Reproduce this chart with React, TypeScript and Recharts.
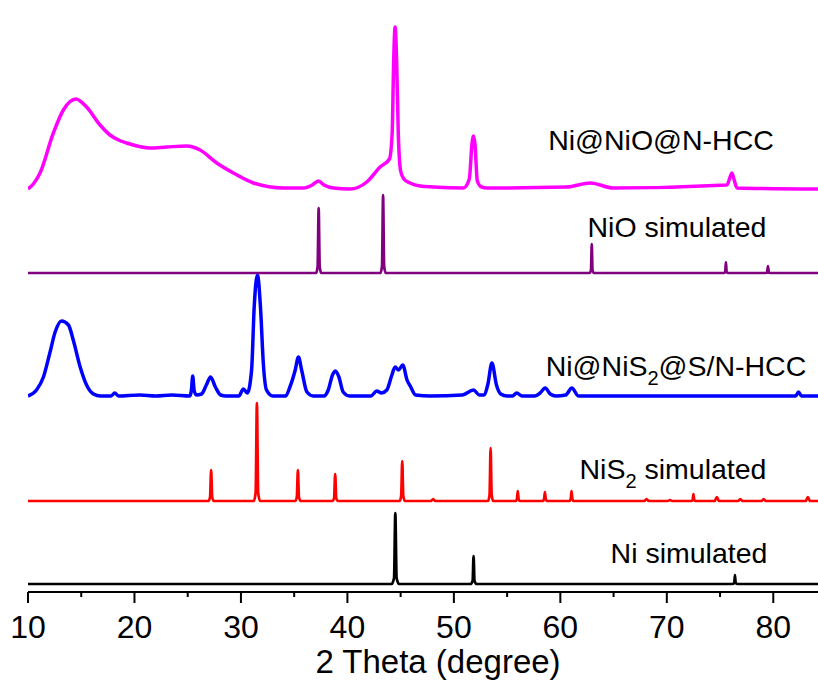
import { LineChart, Line, XAxis, YAxis } from "recharts";

// 2θ (degree) vs intensity (a.u.), each pattern
// intensities are relative to each pattern's own baseline
const niSim: [number, number][] = [
  [10, 0], [44.15, 0], [44.38, 6], [44.5, 71], [44.62, 6], [44.85, 0],
  [51.55, 0], [51.76, 3], [51.85, 28], [51.94, 3], [52.15, 0],
  [76.15, 0], [76.33, 1], [76.4, 9], [76.47, 1], [76.65, 0], [84.2, 0],
];

const nis2Sim: [number, number][] = [
  [10, 0],
  [26.95, 0], [27.1, 4], [27.2, 31], [27.3, 4], [27.45, 0],
  [31.2, 0], [31.38, 8], [31.5, 98], [31.62, 8], [31.8, 0],
  [35.1, 0], [35.25, 4], [35.35, 31], [35.45, 4], [35.6, 0],
  [38.6, 0], [38.75, 3], [38.85, 27], [38.95, 3], [39.1, 0],
  [44.9, 0], [45.05, 5], [45.15, 40], [45.25, 5], [45.4, 0],
  [47.85, 0], [48.05, 2], [48.25, 0],
  [53.2, 0], [53.35, 6], [53.45, 53], [53.55, 6], [53.7, 0],
  [55.8, 0], [55.92, 2], [56.0, 10], [56.08, 2], [56.2, 0],
  [58.35, 0], [58.47, 2], [58.55, 9], [58.63, 2], [58.75, 0],
  [60.85, 0], [60.97, 2], [61.05, 10], [61.13, 2], [61.25, 0],
  [67.9, 0], [68.1, 2], [68.3, 0],
  [70.1, 0], [70.3, 1], [70.5, 0],
  [72.3, 0], [72.42, 1], [72.5, 7], [72.58, 1], [72.7, 0],
  [74.5, 0], [74.7, 4], [74.9, 0],
  [76.7, 0], [76.9, 2], [77.1, 0],
  [78.9, 0], [79.1, 2], [79.3, 0],
  [83.05, 0], [83.25, 4], [83.45, 0],
  [84.2, 0],
];

const niNis2Hcc: [number, number][] = [
  [10, 0], [10.8, 6], [11.45, 19], [12.05, 43], [12.55, 64], [13.15, 75], [13.8, 71],
  [14.25, 56], [14.9, 29], [15.5, 11], [16.15, 2], [16.8, 0], [17.8, 0], [18.15, 3],
  [18.5, 0], [20.5, 1], [22, 0], [23.5, 1], [25.2, 0], [25.35, 6], [25.47, 20],
  [25.6, 6], [25.8, 1], [26.3, 2], [26.75, 11], [27.15, 19], [27.6, 9], [28.1, 1],
  [28.6, 0], [29.8, 0], [30.23, 7], [30.6, 3], [31.0, 26], [31.25, 90], [31.55, 121],
  [31.85, 86], [32.1, 33], [32.4, 6], [33.0, 0], [34.2, 0], [34.6, 9], [35.1, 26],
  [35.4, 39], [35.7, 26], [36.2, 4], [36.8, 0], [37.8, 0], [38.2, 6], [38.6, 21],
  [38.88, 25], [39.2, 19], [39.6, 4], [40.2, 0], [42.2, 0], [42.76, 5], [43.2, 3],
  [43.7, 6], [44.15, 20], [44.48, 29], [44.8, 26], [45.2, 31], [45.6, 16], [45.95, 9],
  [46.4, 1], [47.8, 0], [50.8, 1], [51.84, 6], [52.4, 1], [52.8, 1], [53.2, 12],
  [53.57, 33], [54.0, 11], [54.4, 2], [55.0, 0], [55.5, 0], [55.9, 3], [56.4, 0],
  [57.6, 0], [58.1, 3], [58.58, 8], [59.05, 2], [59.6, 0], [60.5, 1], [61.08, 8],
  [61.7, 0], [70, 0], [80, 0], [82.1, 0], [82.37, 4], [82.65, 0], [84.2, 0],
];

const nioSim: [number, number][] = [
  [10, 0], [37.05, 0], [37.2, 6], [37.3, 65], [37.4, 6], [37.55, 0],
  [43.1, 0], [43.25, 7], [43.35, 78], [43.45, 7], [43.6, 0],
  [62.75, 0], [62.88, 3], [62.95, 29], [63.02, 3], [63.15, 0],
  [75.35, 0], [75.48, 1], [75.55, 11], [75.62, 1], [75.75, 0],
  [79.3, 0], [79.42, 1], [79.5, 7], [79.58, 1], [79.7, 0], [84.2, 0],
];

const niNioHcc: [number, number][] = [
  [10, 0], [10.5, 5], [11.13, 16], [12.38, 56], [13.32, 79], [14.5, 90], [15.5, 82],
  [16.77, 64], [17.7, 54], [18.5, 49], [19.27, 46], [21.46, 41], [23.03, 42], [24.9, 43],
  [26.16, 39], [27.73, 26], [29.29, 16], [31.17, 6], [33.99, 1], [35.87, 1], [36.7, 4],
  [37.28, 8], [37.8, 4], [38.69, 1], [40.25, 0], [41.82, 7], [43.07, 22], [43.95, 30],
  [44.2, 55], [44.35, 130], [44.48, 162], [44.62, 130], [44.78, 55], [45.0, 18],
  [45.3, 10], [45.89, 6], [46.83, 3], [48.08, 2], [50.9, 1], [51.45, 10], [51.7, 45],
  [51.84, 53], [51.98, 45], [52.2, 8], [52.6, 2], [53.1, 1], [60.6, 2], [62.8, 6],
  [64.99, 1], [75.64, 4], [75.95, 12], [76.11, 16], [76.3, 10], [76.59, 1], [84.2, 0],
];

// vertical stacking offsets (a.u.)
const offsets = { ni: 8, nis2: 91, hccS: 196, nio: 319, hccO: 403 };

const xTicks = [10, 15, 20, 25, 30, 35, 40, 45, 50, 55, 60, 65, 70, 75, 80];

const FONT = "'Liberation Sans', Arial, sans-serif";

const toRows = (pts: [number, number][], off: number) =>
  pts.map(([x, y]) => ({ x, y: y + off }));

const series = [
  { key: "ni", data: toRows(niSim, offsets.ni), color: "#000000", w: 2.7 },
  { key: "nis2", data: toRows(nis2Sim, offsets.nis2), color: "#FF0000", w: 2.7 },
  { key: "hccS", data: toRows(niNis2Hcc, offsets.hccS), color: "#0000FF", w: 3.5 },
  { key: "nio", data: toRows(nioSim, offsets.nio), color: "#800080", w: 2.7 },
  { key: "hccO", data: toRows(niNioHcc, offsets.hccO), color: "#FF00FF", w: 3.5 },
];

function Tick({ x, y, payload }: any) {
  const major = payload.value % 10 === 0;
  return (
    <g>
      <line x1={x} y1={y} x2={x} y2={y + (major ? 11 : 5)} stroke="#000" strokeWidth={2} />
      {major && (
        <text x={x} y={y + 46} textAnchor="middle" fontSize={32} fontFamily={FONT} fill="#000">
          {payload.value}
        </text>
      )}
    </g>
  );
}

export default function App() {
  return (
    <div style={{ position: "absolute", left: 0, top: 0, width: 818, height: 682, background: "#fff" }}>
      <LineChart width={818} height={682} margin={{ top: 10, right: 0, bottom: 0, left: 28 }}>
        <XAxis
          type="number"
          dataKey="x"
          domain={[10, 84.2]}
          ticks={xTicks}
          interval={0}
          height={90}
          tickSize={0}
          tickMargin={0}
          tickLine={false}
          tick={<Tick />}
          axisLine={{ stroke: "#000", strokeWidth: 2 }}
          allowDataOverflow
        />
        <YAxis
          type="number"
          domain={[0, 582]}
          width={0}
          tick={false}
          tickLine={false}
          axisLine={{ stroke: "#000", strokeWidth: 2 }}
        />
        {series.map(s => (
          <Line
            key={s.key}
            data={s.data}
            dataKey="y"
            type="monotone"
            stroke={s.color}
            strokeWidth={s.w}
            dot={false}
            activeDot={false}
            isAnimationActive={false}
          />
        ))}
      </LineChart>
      <svg width={818} height={682} style={{ position: "absolute", left: 0, top: 0, pointerEvents: "none" }}>
        <g fontFamily={FONT} fill="#000" textAnchor="middle">
          <text x={661} y={150} fontSize={28.5}>Ni@NiO@N-HCC</text>
          <text x={677} y={237} fontSize={28.5}>NiO simulated</text>
          <text x={676} y={376} fontSize={28.5}>
            Ni@NiS<tspan fontSize={20} dy={9}>2</tspan><tspan dy={-9}>@S/N-HCC</tspan>
          </text>
          <text x={673} y={479} fontSize={28.5}>
            NiS<tspan fontSize={20} dy={9}>2</tspan><tspan dy={-9}> simulated</tspan>
          </text>
          <text x={689} y={563} fontSize={28.5}>Ni simulated</text>
          <text x={438} y={673} fontSize={33}>2 Theta (degree)</text>
        </g>
      </svg>
    </div>
  );
}
